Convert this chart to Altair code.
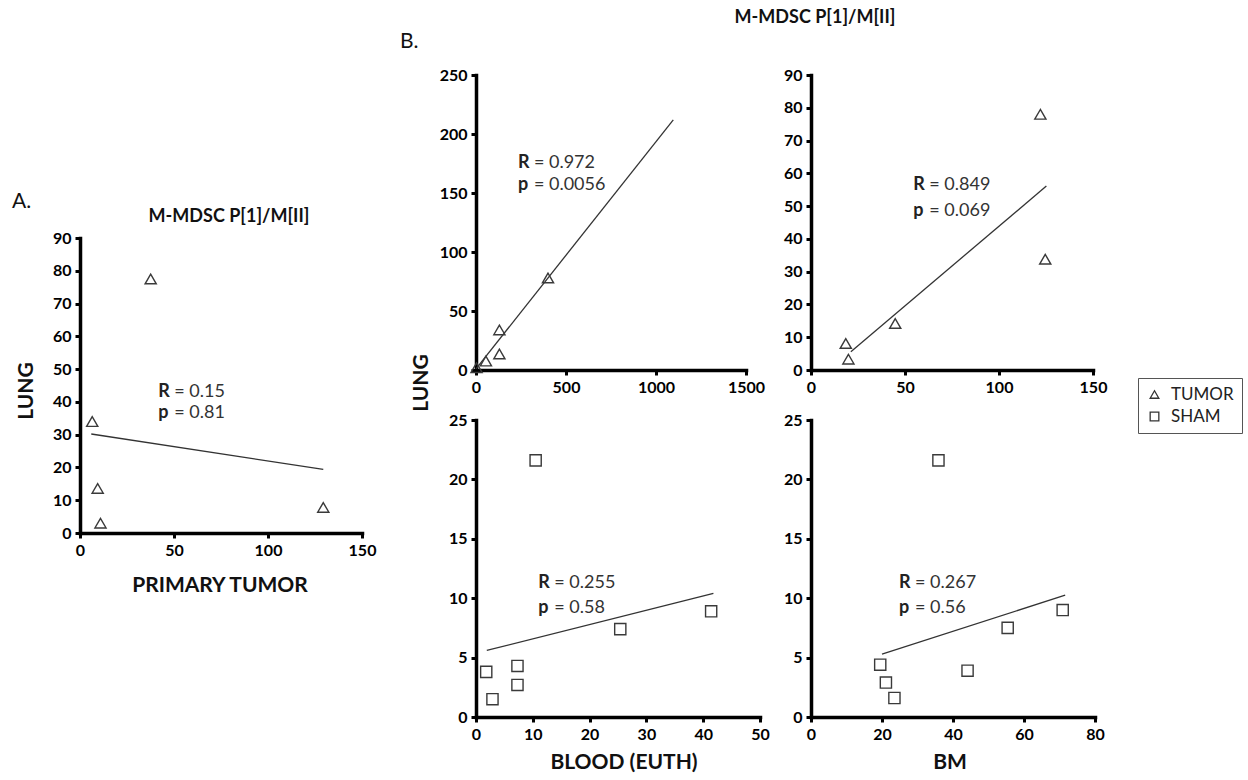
import altair as alt
import pandas as pd

FONT = "Lato"
W, H = 1248, 780

# ---------------- data ----------------
# Panel A: LUNG vs PRIMARY TUMOR (TUMOR mice)
A_X = [6.5, 9.4, 10.9, 37.6, 129.4]
A_Y = [34.0, 13.6, 3.0, 77.5, 7.8]
A_FIT_X = [6.0, 129.4]
A_FIT_Y = [30.2, 19.4]
A_STATS = ["0.15", "0.81"]
A_NOTE_X = 41.6
A_NOTE_Y = [41.6, 35.0]

# Panel B top-left: LUNG vs BLOOD (EUTH), TUMOR
B1_X = [3, 55, 130, 130, 400]
B1_Y = [2.0, 7.6, 34.0, 13.6, 78.0]
B1_FIT_X = [0, 1096]
B1_FIT_Y = [1.0, 212.0]
B1_STATS = ["0.972", "0.0056"]
B1_NOTE_X = 233
B1_NOTE_Y = [170.9, 152.5]

# Panel B top-right: LUNG vs BM, TUMOR
B2_X = [18.5, 19.9, 44.8, 122.0, 124.6]
B2_Y = [8.1, 3.3, 14.2, 78.0, 33.8]
B2_FIT_X = [21.2, 125.2]
B2_FIT_Y = [5.6, 56.1]
B2_STATS = ["0.849", "0.069"]
B2_NOTE_X = 54.4
B2_NOTE_Y = [54.9, 47.0]

# Panel B bottom-left: LUNG vs BLOOD (EUTH), SHAM
B3_X = [1.8, 2.9, 7.3, 7.3, 10.5, 25.4, 41.4]
B3_Y = [3.8, 1.5, 4.3, 2.7, 21.6, 7.4, 8.9]
B3_FIT_X = [1.9, 41.8]
B3_FIT_Y = [5.6, 10.4]
B3_STATS = ["0.255", "0.58"]
B3_NOTE_X = 10.97
B3_NOTE_Y = [10.83, 8.73]

# Panel B bottom-right: LUNG vs BM, SHAM
B4_X = [19.5, 21.1, 23.5, 35.9, 44.1, 55.4, 70.9]
B4_Y = [4.4, 2.9, 1.6, 21.6, 3.9, 7.5, 9.0]
B4_FIT_X = [20.0, 71.6]
B4_FIT_Y = [5.3, 10.25]
B4_STATS = ["0.267", "0.56"]
B4_NOTE_X = 24.8
B4_NOTE_Y = [10.88, 8.73]

GROUPS = ["TUMOR", "SHAM"]
SHAPES = ["triangle-up", "square"]

axis_style = dict(
    domainColor="black", domainWidth=3.5, domainCap="square",
    tickColor="black", tickWidth=3, tickSize=5,
    labelFont=FONT, labelFontSize=16, labelFontWeight="bold",
    labelColor="#000", labelPadding=4, grid=False,
    labelFlush=False, labelOverlap=False, format="d",
)

legend = alt.Legend(
    title=None, orient="none", legendX=1138, legendY=378,
    strokeColor="#555", padding=8, symbolSize=75,
    symbolStrokeColor="#333", symbolStrokeWidth=1.3,
    symbolFillColor="white", labelFont=FONT, labelFontSize=17,
    labelColor="#222", labelOffset=8, rowPadding=4,
)
shape_scale = alt.Scale(domain=GROUPS, range=SHAPES)


def panel(xs, ys, group, fx, fy, nx, ny, stats, xdom, ydom, xr, yr, xticks, yticks):
    xsc = alt.Scale(domain=xdom, range=xr, nice=False, zero=False)
    ysc = alt.Scale(domain=ydom, range=yr, nice=False, zero=False)
    xax = alt.Axis(orient="bottom", offset=yr[0] - H, values=xticks, **axis_style)
    yax = alt.Axis(orient="left", offset=-xr[0], values=yticks, **axis_style)
    X_ax = alt.X("x:Q", scale=xsc, axis=xax, title=None)
    Y_ax = alt.Y("y:Q", scale=ysc, axis=yax, title=None)
    X = alt.X("x:Q", scale=xsc, axis=None)
    Y = alt.Y("y:Q", scale=ysc, axis=None)

    pts = pd.DataFrame({"x": xs, "y": ys, "group": [group] * len(xs)})
    fit = pd.DataFrame({"x": fx, "y": fy})
    notes = pd.DataFrame({"x": [nx, nx], "y": ny, "k": ["R", "p"],
                          "v": ["= " + stats[0], "= " + stats[1]]})

    points = alt.Chart(pts).mark_point(filled=False, size=125, strokeWidth=1.4, color="#3a3a3a", opacity=1).encode(
        x=X_ax, y=Y_ax,
        shape=alt.Shape("group:N", scale=shape_scale, legend=legend),
    )
    line = alt.Chart(fit).mark_line(color="#333", strokeWidth=1.3).encode(x=X, y=Y)
    keys = alt.Chart(notes).mark_text(font=FONT, fontSize=18, fontWeight="bold", align="left",
                                      baseline="alphabetic", color="#222").encode(x=X, y=Y, text="k:N")
    vals = alt.Chart(notes).mark_text(font=FONT, fontSize=18, fontWeight="normal", align="left",
                                      baseline="alphabetic", dx=16, color="#333").encode(x=X, y=Y, text="v:N")
    return [line, points, keys, vals]


layers = []
layers += panel(A_X, A_Y, "TUMOR", A_FIT_X, A_FIT_Y, A_NOTE_X, A_NOTE_Y, A_STATS,
                [0, 150], [0, 90], [80, 362], [533, 238], [0, 50, 100, 150], list(range(0, 91, 10)))
layers += panel(B1_X, B1_Y, "TUMOR", B1_FIT_X, B1_FIT_Y, B1_NOTE_X, B1_NOTE_Y, B1_STATS,
                [0, 1500], [0, 250], [476, 746], [370, 75], [0, 500, 1000, 1500], list(range(0, 251, 50)))
layers += panel(B2_X, B2_Y, "TUMOR", B2_FIT_X, B2_FIT_Y, B2_NOTE_X, B2_NOTE_Y, B2_STATS,
                [0, 150], [0, 90], [811, 1093], [370, 75], [0, 50, 100, 150], list(range(0, 91, 10)))
layers += panel(B3_X, B3_Y, "SHAM", B3_FIT_X, B3_FIT_Y, B3_NOTE_X, B3_NOTE_Y, B3_STATS,
                [0, 50], [0, 25], [476, 760], [717, 420], list(range(0, 51, 10)), list(range(0, 26, 5)))
layers += panel(B4_X, B4_Y, "SHAM", B4_FIT_X, B4_FIT_Y, B4_NOTE_X, B4_NOTE_Y, B4_STATS,
                [0, 80], [0, 25], [811, 1095], [717, 420], list(range(0, 81, 20)), list(range(0, 26, 5)))


def label(text, x, y, size, weight="bold", angle=0, align="center"):
    return alt.Chart(pd.DataFrame({"t": [text]})).mark_text(
        font=FONT, fontSize=size, fontWeight=weight, angle=angle, align=align,
        baseline="middle", color="#111",
    ).encode(x=alt.value(x), y=alt.value(y), text="t:N")


layers += [
    label("A.", 12, 202, 21, weight="normal", align="left"),
    label("B.", 400, 42, 21, weight="normal", align="left"),
    label("M-MDSC P[1]/M[II]", 229, 217, 18),
    label("M-MDSC P[1]/M[II]", 815, 18, 18),
    label("LUNG", 27, 391, 21, angle=270),
    label("LUNG", 422, 383, 21, angle=270),
    label("PRIMARY TUMOR", 220, 586, 21),
    label("BLOOD (EUTH)", 624, 763, 21),
    label("BM", 950, 763, 21),
]

chart = alt.layer(*layers).resolve_scale(
    x="independent", y="independent"
).properties(
    width=W, height=H, padding=0,
    autosize=alt.AutoSizeParams(type="none"),
    background="white",
).configure_view(stroke=None)

chart.save("out.html", embed_options={"renderer": "svg", "actions": False})
